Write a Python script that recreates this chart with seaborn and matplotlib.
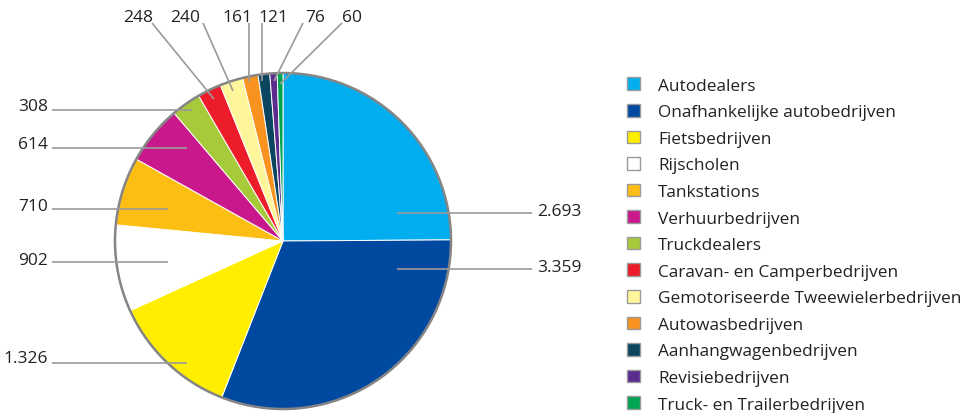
import matplotlib
matplotlib.use("Agg")
import matplotlib.pyplot as plt
import seaborn as sns
from matplotlib.patches import Patch, Circle

# ---- data ----
categories = [
    "Autodealers",
    "Onafhankelijke autobedrijven",
    "Fietsbedrijven",
    "Rijscholen",
    "Tankstations",
    "Verhuurbedrijven",
    "Truckdealers",
    "Caravan- en Camperbedrijven",
    "Gemotoriseerde Tweewielerbedrijven",
    "Autowasbedrijven",
    "Aanhangwagenbedrijven",
    "Revisiebedrijven",
    "Truck- en Trailerbedrijven",
]
values = [2693, 3359, 1326, 902, 710, 614, 308, 248, 240, 161, 121, 76, 60]
colors = [
    "#00AEEF", "#0049A0", "#FFEE00", "#FFFFFF", "#FDBE14", "#C8188C",
    "#A6CA3A", "#EC1C2A", "#FFF59B", "#F7931E", "#0B4560", "#5B2C8E", "#00A551",
]

# ---- layout (pixel coordinates, y downward) ----
W, H = 965, 414
CX, CY, R = 283, 242, 168
# (text x, text y, ha, line start, line end)
label_layout = [
    (537, 212, "left", (532, 214), (397, 214)),
    (537, 268, "left", (532, 270), (397, 270)),
    (48, 359, "right", (52, 364), (187, 364)),
    (48, 261, "right", (52, 263), (168, 263)),
    (48, 207, "right", (52, 210), (168, 210)),
    (48, 145, "right", (52, 149), (187, 149)),
    (48, 107, "right", (52, 111), (192, 111)),
    (138, 18, "center", (152, 24), (214, 100)),
    (185, 18, "center", (203, 24), (233, 92)),
    (237, 18, "center", (249, 24), (249, 83)),
    (273, 18, "center", (262, 24), (262, 82)),
    (315, 18, "center", (303, 24), (274, 82)),
    (352, 18, "center", (342, 24), (280, 85)),
]

sns.set_theme(style="white")
plt.rcParams["font.family"] = ["Open Sans", "DejaVu Sans"]

def P(x, y):
    return (x, H - y)

fig = plt.figure(figsize=(W / 100, H / 100), dpi=100)
ax = fig.add_axes([0, 0, 1, 1])

wedges, _ = ax.pie(
    values,
    colors=colors,
    startangle=90,
    counterclock=False,
    center=P(CX, CY),
    radius=R,
    wedgeprops=dict(edgecolor="white", linewidth=0.7),
)
ax.add_patch(Circle(P(CX, CY), R, facecolor="none", edgecolor="#858585", linewidth=1.8, zorder=3))

line_color = "#9b9b9b"
for v, (tx, ty, ha, p0, p1) in zip(values, label_layout):
    txt = f"{v:,}".replace(",", ".")
    x0, y0 = P(*p0)
    x1, y1 = P(*p1)
    ax.plot([x0, x1], [y0, y1], color=line_color, linewidth=1.2, zorder=4, solid_capstyle="butt")
    ax.text(*P(tx, ty), txt, ha=ha, va="center", fontsize=12.5, color="#222222", zorder=5)

ax.set_xlim(0, W)
ax.set_ylim(0, H)
ax.set_aspect("auto")
ax.axis("off")

handles = [Patch(facecolor=c, edgecolor="#9a9a9a", linewidth=1.0) for c in colors]
leg = ax.legend(
    handles, categories,
    loc="upper left",
    bbox_to_anchor=(627 / W, 1 - 78.5 / H),
    bbox_transform=fig.transFigure,
    frameon=False,
    fontsize=12.4,
    handlelength=0.75,
    handleheight=0.75,
    handletextpad=1.05,
    labelspacing=0.595,
    borderpad=0,
    borderaxespad=0,
)
for t in leg.get_texts():
    t.set_color("#222222")

fig.savefig("out.png", dpi=100)
